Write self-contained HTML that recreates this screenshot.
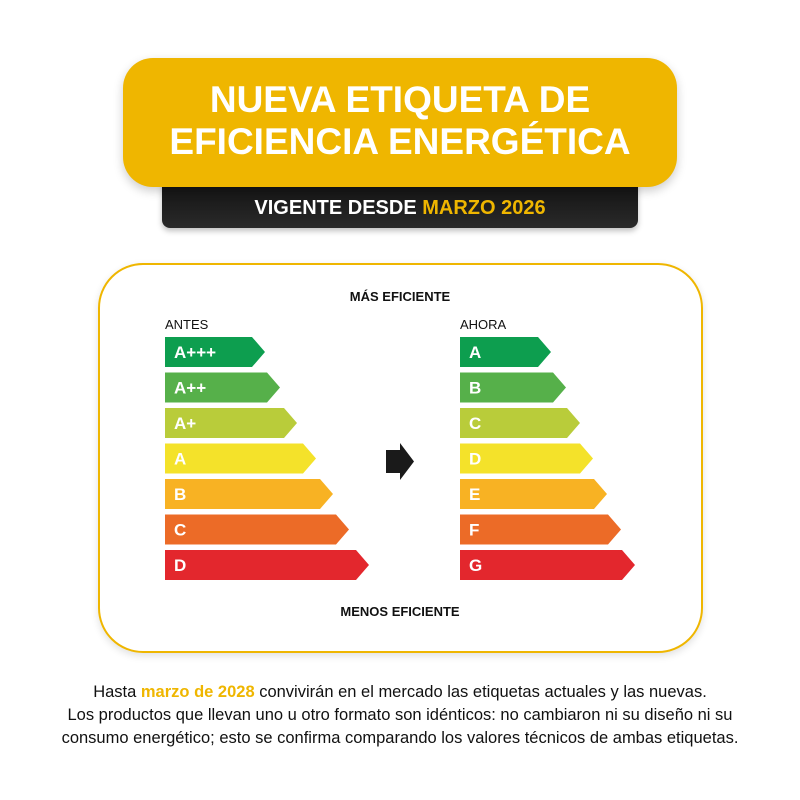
<!DOCTYPE html>
<html><head><style>
body{margin:0;width:800px;height:800px;background:#fff;position:relative;font-family:"Liberation Sans",Arial,sans-serif;overflow:hidden}
.t{position:absolute;left:123px;top:58px;width:554px;height:129px;background:#efb600;border-radius:30px;box-shadow:0 4px 10px rgba(0,0,0,.2);z-index:2;color:#fff;font-weight:bold;font-size:37px;text-align:center;line-height:42px;padding-top:21px;box-sizing:border-box}
.b{position:absolute;left:162px;top:180px;width:476px;height:48px;background:linear-gradient(#111,#2a2a2a);border-radius:0 0 8px 8px;color:#fff;font-size:20px;font-weight:bold;text-align:center;line-height:56px;box-shadow:0 3px 6px rgba(0,0,0,.25)}
.b span{color:#efb600}
.c{position:absolute;left:98px;top:263px;width:605px;height:390px;border:2px solid #efb600;border-radius:45px;box-sizing:border-box;box-shadow:0 3px 8px rgba(0,0,0,.12)}
.l{position:absolute;font-size:13px;color:#111}
.p{position:absolute;top:681px;left:0;width:800px;text-align:center;font-size:16.5px;line-height:23px;color:#111}
.p span{color:#efb600;font-weight:bold}
</style></head><body>
<div class="t">NUEVA ETIQUETA DE<br>EFICIENCIA ENERGÉTICA</div>
<div class="b">VIGENTE DESDE <span>MARZO 2026</span></div>
<div class="c"></div>
<div class="l" style="left:0;width:800px;text-align:center;top:289px;font-weight:bold">MÁS EFICIENTE</div>
<div class="l" style="left:0;width:800px;text-align:center;top:604px;font-weight:bold">MENOS EFICIENTE</div>
<div class="l" style="left:165px;top:317px">ANTES</div>
<div class="l" style="left:460px;top:317px">AHORA</div>
<svg width="800" height="800" style="position:absolute;left:0;top:0" font-family="Liberation Sans,Arial,sans-serif" font-weight="bold" font-size="17" fill="#fff">
<polygon points="165,337 252,337 265,352 252,367 165,367" fill="#0d9e4f"/><text x="174" y="358">A+++</text>
<polygon points="165,372.5 267,372.5 280,387.5 267,402.5 165,402.5" fill="#56b04a"/><text x="174" y="393.5">A++</text>
<polygon points="165,408 284,408 297,423 284,438 165,438" fill="#b9cc3a"/><text x="174" y="429">A+</text>
<polygon points="165,443.5 303,443.5 316,458.5 303,473.5 165,473.5" fill="#f4e22a"/><text x="174" y="464.5">A</text>
<polygon points="165,479 320,479 333,494 320,509 165,509" fill="#f8b223"/><text x="174" y="500">B</text>
<polygon points="165,514.5 336,514.5 349,529.5 336,544.5 165,544.5" fill="#ec6b27"/><text x="174" y="535.5">C</text>
<polygon points="165,550 356,550 369,565 356,580 165,580" fill="#e3272d"/><text x="174" y="571">D</text>

<polygon points="460,337 538,337 551,352 538,367 460,367" fill="#0d9e4f"/><text x="469" y="358">A</text>
<polygon points="460,372.5 553,372.5 566,387.5 553,402.5 460,402.5" fill="#56b04a"/><text x="469" y="393.5">B</text>
<polygon points="460,408 567,408 580,423 567,438 460,438" fill="#b9cc3a"/><text x="469" y="429">C</text>
<polygon points="460,443.5 580,443.5 593,458.5 580,473.5 460,473.5" fill="#f4e22a"/><text x="469" y="464.5">D</text>
<polygon points="460,479 594,479 607,494 594,509 460,509" fill="#f8b223"/><text x="469" y="500">E</text>
<polygon points="460,514.5 608,514.5 621,529.5 608,544.5 460,544.5" fill="#ec6b27"/><text x="469" y="535.5">F</text>
<polygon points="460,550 622,550 635,565 622,580 460,580" fill="#e3272d"/><text x="469" y="571">G</text>

<polygon points="386,450 400,450 400,443 414,461.5 400,480 400,473 386,473" fill="#1a1a1a"/>
</svg>
<div class="p">Hasta <span>marzo de 2028</span> convivirán en el mercado las etiquetas actuales y las nuevas.<br>Los productos que llevan uno u otro formato son idénticos: no cambiaron ni su diseño ni su<br>consumo energético; esto se confirma comparando los valores técnicos de ambas etiquetas.</div>
</body></html>
